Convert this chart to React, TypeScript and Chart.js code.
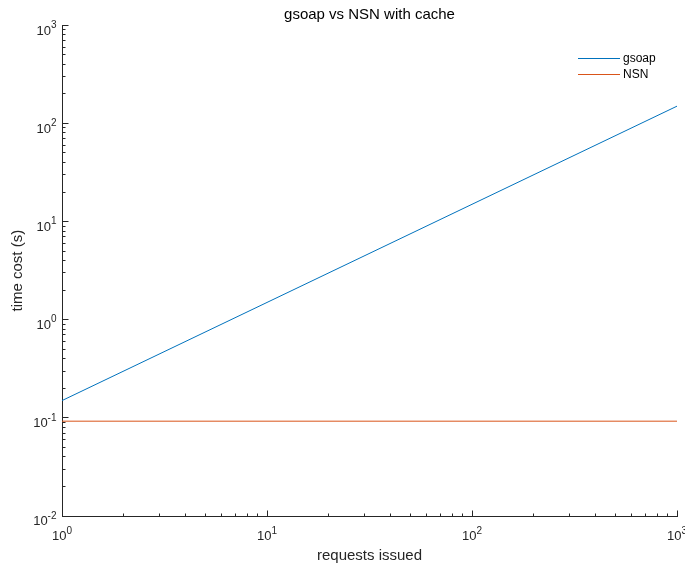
import React, { useEffect, useRef } from 'react';
import { Chart, registerables } from 'chart.js';

Chart.register(...registerables);

// ---- data ----
const requests = [1, 10, 100, 1000];
const gsoapTime = [0.15, 1.5, 15, 150];
const nsnTime = [0.0925, 0.0925, 0.0925, 0.0925];

const xMajorTicks = [1, 10, 100, 1000];
const xTickLabels = ['10^0', '10^1', '10^2', '10^3'];
const yMajorTicks = [0.01, 0.1, 1, 10, 100, 1000];
const yTickLabels = ['10^-2', '10^-1', '10^0', '10^1', '10^2', '10^3'];

const seriesNames = ['gsoap', 'NSN'];
const seriesColors = ['#0072BD', '#D95319'];

const FONT = '"Liberation Sans", Arial, Helvetica, sans-serif';
const AXIS = '#262626';
const BASE_SIZE = 13;
const EXP_SIZE = 10;
const EXP_RAISE = 6.5;

function withMinors(majors: number[]) {
  const out: { value: number; major: boolean }[] = [];
  for (let i = 0; i < majors.length; i++) {
    out.push({ value: majors[i], major: true });
    if (i < majors.length - 1) {
      for (let k = 2; k <= 9; k++) out.push({ value: majors[i] * k, major: false });
    }
  }
  return out;
}

function labelFor(value: number, majors: number[], labels: string[]) {
  for (let i = 0; i < majors.length; i++) {
    if (Math.abs(Math.log10(value) - Math.log10(majors[i])) < 1e-6) return labels[i];
  }
  return '';
}

// draws "base^exp" with a raised, smaller exponent
function drawPowerLabel(ctx: CanvasRenderingContext2D, label: string, x: number, baseline: number, align: 'center' | 'right') {
  const [base, exp] = label.split('^');
  ctx.font = `${BASE_SIZE}px ${FONT}`;
  const wb = ctx.measureText(base).width;
  ctx.font = `${EXP_SIZE}px ${FONT}`;
  const we = ctx.measureText(exp || '').width;
  const total = wb + we;
  const x0 = align === 'center' ? x - total / 2 : x - total;
  ctx.textAlign = 'left';
  ctx.textBaseline = 'alphabetic';
  ctx.font = `${BASE_SIZE}px ${FONT}`;
  ctx.fillText(base, x0, baseline);
  if (exp) {
    ctx.font = `${EXP_SIZE}px ${FONT}`;
    ctx.fillText(exp, x0 + wb, baseline - EXP_RAISE);
  }
}

const axisDecor = {
  id: 'axisDecor',
  afterDatasetsDraw(chart: any) {
    const { ctx, chartArea } = chart;
    const xs = chart.scales.x;
    const ys = chart.scales.y;
    const left = Math.round(chartArea.left) + 0.5;
    const bottom = Math.round(chartArea.bottom) + 0.5;
    ctx.save();
    ctx.strokeStyle = AXIS;
    ctx.lineWidth = 1;
    ctx.beginPath();
    xs.ticks.forEach((t: any) => {
      const px = Math.round(xs.getPixelForValue(t.value) - 0.5) + 0.5;
      const len = t.major ? 6 : 3;
      ctx.moveTo(px, bottom);
      ctx.lineTo(px, bottom - len);
    });
    ys.ticks.forEach((t: any) => {
      const py = Math.round(ys.getPixelForValue(t.value) - 0.5) + 0.5;
      const len = t.major ? 6 : 3;
      ctx.moveTo(left, py);
      ctx.lineTo(left + len, py);
    });
    ctx.stroke();

    // tick labels (from the label arrays, positioned by the scales)
    ctx.fillStyle = AXIS;
    xMajorTicks.forEach((v, i) => {
      const px = xs.getPixelForValue(v);
      drawPowerLabel(ctx, xTickLabels[i], px, chartArea.bottom + 24, 'center');
    });
    yMajorTicks.forEach((v, i) => {
      const py = ys.getPixelForValue(v);
      drawPowerLabel(ctx, yTickLabels[i], chartArea.left - 5.5, py + 9.2, 'right');
    });
    ctx.restore();
  },
};

const insideLegend = {
  id: 'insideLegend',
  afterDraw(chart: any) {
    const { ctx } = chart;
    const lineX0 = 578;
    const lineX1 = 620;
    const textX = 623;
    const y0 = 57.5;
    const dy = 16.5;
    ctx.save();
    ctx.font = `12px ${FONT}`;
    ctx.textBaseline = 'middle';
    ctx.textAlign = 'left';
    chart.data.datasets.forEach((ds: any, i: number) => {
      const y = Math.round(y0 + i * dy) + 0.5;
      ctx.strokeStyle = ds.borderColor;
      ctx.lineWidth = 1;
      ctx.beginPath();
      ctx.moveTo(lineX0, y);
      ctx.lineTo(lineX1, y);
      ctx.stroke();
      ctx.fillStyle = '#000';
      ctx.fillText(ds.label, textX, y);
    });
    ctx.restore();
  },
};

export default function App() {
  const ref = useRef<HTMLCanvasElement | null>(null);

  useEffect(() => {
    if (!ref.current) return;
    const chart = new Chart(ref.current, {
      type: 'line',
      data: {
        datasets: [
          {
            label: seriesNames[0],
            data: requests.map((x, i) => ({ x, y: gsoapTime[i] })),
            borderColor: seriesColors[0],
            backgroundColor: seriesColors[0],
            borderWidth: 1,
            pointRadius: 0,
            tension: 0,
            fill: false,
          },
          {
            label: seriesNames[1],
            data: requests.map((x, i) => ({ x, y: nsnTime[i] })),
            borderColor: seriesColors[1],
            backgroundColor: seriesColors[1],
            borderWidth: 1,
            pointRadius: 0,
            tension: 0,
            fill: false,
          },
        ],
      },
      options: {
        responsive: false,
        animation: false,
        devicePixelRatio: 1,
        layout: { padding: { left: 0, right: 8, top: 0, bottom: 0 } },
        plugins: {
          legend: { display: false },
          tooltip: { enabled: false },
          title: {
            display: true,
            text: 'gsoap vs NSN with cache',
            fullSize: false,
            color: '#000',
            font: { family: FONT, size: 15, weight: 'normal', lineHeight: 1.2 },
            padding: { top: 5.5, bottom: 1.8 },
          },
        },
        scales: {
          x: {
            type: 'logarithmic',
            position: 'bottom',
            min: 1,
            max: 1000,
            grid: { display: false },
            border: { display: true, color: AXIS, width: 1 },
            afterBuildTicks: (s: any) => {
              s.ticks = withMinors(xMajorTicks);
            },
            ticks: {
              display: false,
              autoSkip: false,
              maxRotation: 0,
              minRotation: 0,
              callback: (v: any) => labelFor(Number(v), xMajorTicks, xTickLabels),
            },
            title: {
              display: true,
              text: 'requests issued',
              color: AXIS,
              font: { family: FONT, size: 15, lineHeight: 1 },
              padding: { top: 0, bottom: 1 },
            },
            afterFit: (s: any) => {
              s.height = 48;
              s.paddingLeft = 0;
              s.paddingRight = 0;
            },
          },
          y: {
            type: 'logarithmic',
            position: 'left',
            min: 0.01,
            max: 1000,
            grid: { display: false },
            border: { display: true, color: AXIS, width: 1 },
            afterBuildTicks: (s: any) => {
              s.ticks = withMinors(yMajorTicks);
            },
            ticks: {
              display: false,
              autoSkip: false,
              callback: (v: any) => labelFor(Number(v), yMajorTicks, yTickLabels),
            },
            title: {
              display: true,
              text: 'time cost (s)',
              color: AXIS,
              font: { family: FONT, size: 15, lineHeight: 1 },
              padding: { top: 10.5, bottom: 0 },
            },
            afterFit: (s: any) => {
              s.width = 62;
              s.paddingTop = 0;
              s.paddingBottom = 0;
            },
          },
        },
      } as any,
      plugins: [axisDecor, insideLegend],
    });
    return () => chart.destroy();
  }, []);

  return (
    <div style={{ position: 'absolute', left: 0, top: 0, width: 685, height: 564, background: '#fff' }}>
      <canvas ref={ref} width={685} height={564} style={{ display: 'block' }} />
    </div>
  );
}
